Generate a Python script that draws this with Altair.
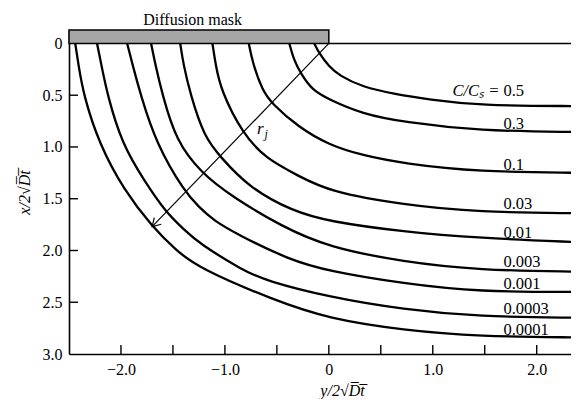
import altair as alt
import pandas as pd

# ---- data ----
levels = ["0.5", "0.3", "0.1", "0.03", "0.01", "0.003", "0.001", "0.0003", "0.0001"]

lat_0_5 = [-0.14, -0.09, 0.0, 0.10, 0.32, 0.64, 0.96, 1.44, 2.40]
dep_0_5 = [0.0, 0.10, 0.22, 0.31, 0.42, 0.49, 0.54, 0.60, 0.605]

lat_0_3 = [-0.38, -0.34, -0.27, -0.16, 0.0, 0.32, 0.72, 1.44, 2.40]
dep_0_3 = [0.0, 0.15, 0.29, 0.45, 0.54, 0.68, 0.76, 0.845, 0.855]

lat_0_1 = [-0.77, -0.73, -0.64, -0.55, -0.29, 0.0, 0.32, 0.72, 1.44, 2.40]
dep_0_1 = [0.0, 0.20, 0.45, 0.58, 0.81, 0.98, 1.08, 1.16, 1.24, 1.25]

lat_0_03 = [-1.12, -1.09, -1.04, -0.83, -0.61, -0.29, 0.0, 0.72, 1.44, 2.40]
dep_0_03 = [0.0, 0.20, 0.45, 0.87, 1.11, 1.28, 1.43, 1.56, 1.63, 1.64]

lat_0_01 = [-1.43, -1.40, -1.33, -1.20, -1.04, -0.77, -0.35, 0.0, 0.72, 1.44, 2.40]
dep_0_01 = [0.0, 0.20, 0.50, 0.90, 1.10, 1.39, 1.62, 1.72, 1.82, 1.88, 1.92]

lat_0_003 = [-1.71, -1.67, -1.60, -1.47, -1.23, -0.93, -0.45, 0.0, 0.72, 1.44, 2.40]
dep_0_003 = [0.0, 0.20, 0.50, 0.94, 1.25, 1.48, 1.77, 1.97, 2.11, 2.19, 2.205]

lat_0_001 = [-1.94, -1.89, -1.81, -1.66, -1.39, -1.25, -1.11, -0.87, -0.38, 0.0, 0.72, 1.44, 2.40]
dep_0_001 = [0.0, 0.20, 0.50, 0.97, 1.43, 1.58, 1.71, 1.85, 2.09, 2.20, 2.32, 2.40, 2.40]

lat_0_0003 = [-2.23, -2.19, -2.13, -1.99, -1.78, -1.57, -1.39, -1.25, -0.83, -0.61, 0.0, 0.72, 1.44, 2.40]
dep_0_0003 = [0.0, 0.20, 0.50, 0.97, 1.32, 1.63, 1.80, 1.93, 2.19, 2.29, 2.45, 2.57, 2.64, 2.65]

lat_0_0001 = [-2.44, -2.41, -2.36, -2.21, -1.97, -1.70, -1.47, -1.25, -0.53, 0.0, 0.72, 1.44, 2.40]
dep_0_0001 = [0.0, 0.20, 0.50, 0.97, 1.42, 1.77, 2.00, 2.17, 2.48, 2.66, 2.77, 2.83, 2.84]

curve_lats = [lat_0_5, lat_0_3, lat_0_1, lat_0_03, lat_0_01, lat_0_003, lat_0_001, lat_0_0003, lat_0_0001]
curve_deps = [dep_0_5, dep_0_3, dep_0_1, dep_0_03, dep_0_01, dep_0_003, dep_0_001, dep_0_0003, dep_0_0001]

# curve labels (baseline depth, lateral start)
label_text = ["0.5", "0.3", "0.1", "0.03", "0.01", "0.003", "0.001", "0.0003", "0.0001"]
label_dep = [0.508, 0.83, 1.225, 1.60, 1.875, 2.16, 2.375, 2.61, 2.815]
label_lat = 1.68
cs_label_lat = 1.64

# mask
mask_lat = [-2.5, 0.0]
mask_dep = [-0.13, 0.0]
mask_title_lat = -1.31

# junction radius arrow
arrow_lat = [0.0, -1.70]
arrow_dep = [0.0, 1.77]
rj_lat, rj_dep = -0.66, 0.83

x_ticks = [-2.0, -1.5, -1.0, -0.5, 0.0, 0.5, 1.0, 1.5, 2.0]
x_labels = [-2.0, -1.0, 0.0, 1.0, 2.0]
y_ticks = [0.5, 1.0, 1.5, 2.0, 2.5]
y_labels = [0.0, 0.5, 1.0, 1.5, 2.0, 2.5, 3.0]

# ---- tables ----
rows = []
for lev, la, de in zip(levels, curve_lats, curve_deps):
    for i, (a, d) in enumerate(zip(la, de)):
        rows.append({"level": lev, "lat": a, "dep": d, "i": i})
curves = pd.DataFrame(rows)

SERIF = "Liberation Serif"
W, H = 502, 324
xs = alt.Scale(domain=[-2.5, 2.33], nice=False, zero=False)
ys = alt.Scale(domain=[mask_dep[0], 3.0], reverse=True, nice=False, zero=False)

x_axis = alt.Axis(
    values=x_labels, labelExpr="datum.value == 0 ? '0' : format(datum.value, '.1f')",
    title="y/2√D̅t̅", grid=False, ticks=False, tickSize=0, domainColor="black",
    domainWidth=1.6, labelFont=SERIF, labelFontSize=16, labelColor="black",
    labelPadding=7, titleFont=SERIF, titleFontSize=16, titleFontStyle="italic",
    titleFontWeight="normal", titleColor="black", titlePadding=5, titleX=273,
)
y_axis = alt.Axis(
    values=y_labels, labelExpr="datum.value == 0 ? '0' : format(datum.value, '.1f')",
    title="x/2√D̅t̅", grid=False, ticks=False, tickSize=0, domainColor="black",
    domainWidth=1.6, labelFont=SERIF, labelFontSize=16, labelColor="black",
    labelPadding=7, titleFont=SERIF, titleFontSize=16, titleFontStyle="italic",
    titleFontWeight="normal", titleColor="black", titlePadding=10,
)


def X(field):
    return alt.X(field, scale=xs, axis=x_axis)


def Y(field):
    return alt.Y(field, scale=ys, axis=y_axis)


lines = alt.Chart(curves).mark_line(
    color="black", strokeWidth=2.3, interpolate="basis", clip=True
).encode(
    x=X("lat:Q"), y=Y("dep:Q"), detail="level:N", order="i:Q",
)

surface = alt.Chart(pd.DataFrame({"lat": [mask_lat[1]], "b": [2.40], "dep": [0.0]})).mark_rule(
    color="black", strokeWidth=1.5, clip=True
).encode(x=X("lat:Q"), x2="b:Q", y=Y("dep:Q"))

mask = alt.Chart(pd.DataFrame({"lat": [mask_lat[0]], "b": [mask_lat[1]],
                               "dep": [mask_dep[0]], "u": [mask_dep[1]]})).mark_rect(
    fill="#a6a6a6", stroke="black", strokeWidth=1.5
).encode(x=X("lat:Q"), x2="b:Q", y=Y("dep:Q"), y2="u:Q")

mask_title = alt.Chart(pd.DataFrame({"lat": [mask_title_lat], "dep": [mask_dep[0]],
                                     "s": ["Diffusion mask"]})).mark_text(
    font=SERIF, fontSize=16, color="black", baseline="alphabetic", dy=-5
).encode(x=X("lat:Q"), y=Y("dep:Q"), text="s:N")

arrow_line = alt.Chart(pd.DataFrame({"lat": [arrow_lat[0]], "b": [arrow_lat[1]],
                                     "dep": [arrow_dep[0]], "e": [arrow_dep[1]]})).mark_rule(
    color="black", strokeWidth=1.2
).encode(x=X("lat:Q"), x2="b:Q", y=Y("dep:Q"), y2="e:Q")

arrow_head = alt.Chart(pd.DataFrame({"lat": [arrow_lat[1]], "dep": [arrow_dep[1]]})).mark_point(
    shape="M -0.6 -1 L 0 0 L 0.6 -1", filled=False, size=260, angle=44,
    color="black", strokeWidth=1.2, opacity=1
).encode(x=X("lat:Q"), y=Y("dep:Q"))

rj = alt.Chart(pd.DataFrame({"lat": [rj_lat], "dep": [rj_dep], "s": ["r"]})).mark_text(
    font=SERIF, fontSize=17, fontStyle="italic", color="black"
).encode(x=X("lat:Q"), y=Y("dep:Q"), text="s:N")

rj_sub = alt.Chart(pd.DataFrame({"lat": [rj_lat], "dep": [rj_dep], "s": ["j"]})).mark_text(
    font=SERIF, fontSize=12, fontStyle="italic", color="black", dx=6, dy=5
).encode(x=X("lat:Q"), y=Y("dep:Q"), text="s:N")

labels = alt.Chart(pd.DataFrame({"lat": [label_lat] * len(label_text), "dep": label_dep,
                                 "s": label_text})).mark_text(
    font=SERIF, fontSize=16.5, color="black", align="left", baseline="alphabetic"
).encode(x=X("lat:Q"), y=Y("dep:Q"), text="s:N")

cs_label = alt.Chart(pd.DataFrame({"lat": [cs_label_lat], "dep": [label_dep[0]],
                                   "s": ["C/Cₛ ="]})).mark_text(
    font=SERIF, fontSize=16.5, fontStyle="italic", color="black", align="right",
    baseline="alphabetic"
).encode(x=X("lat:Q"), y=Y("dep:Q"), text="s:N")

xtick = alt.Chart(pd.DataFrame({"lat": x_ticks})).mark_rule(color="black", strokeWidth=1.4).encode(
    x=X("lat:Q"), y=alt.value(H), y2=alt.value(H - 9)
)
ytick = alt.Chart(pd.DataFrame({"dep": y_ticks})).mark_rule(color="black", strokeWidth=1.4).encode(
    y=Y("dep:Q"), x=alt.value(0), x2=alt.value(9)
)

chart = alt.layer(
    lines, surface, arrow_line, arrow_head, mask, mask_title, rj, rj_sub,
    labels, cs_label, xtick, ytick
).properties(
    width=W, height=H,
    autosize=alt.AutoSizeParams(type="none"),
    padding={"left": 61, "top": 22, "right": 0, "bottom": 45},
    background="white",
).configure_view(stroke=None)

chart.save("out.html", embed_options={"renderer": "svg", "actions": False})
